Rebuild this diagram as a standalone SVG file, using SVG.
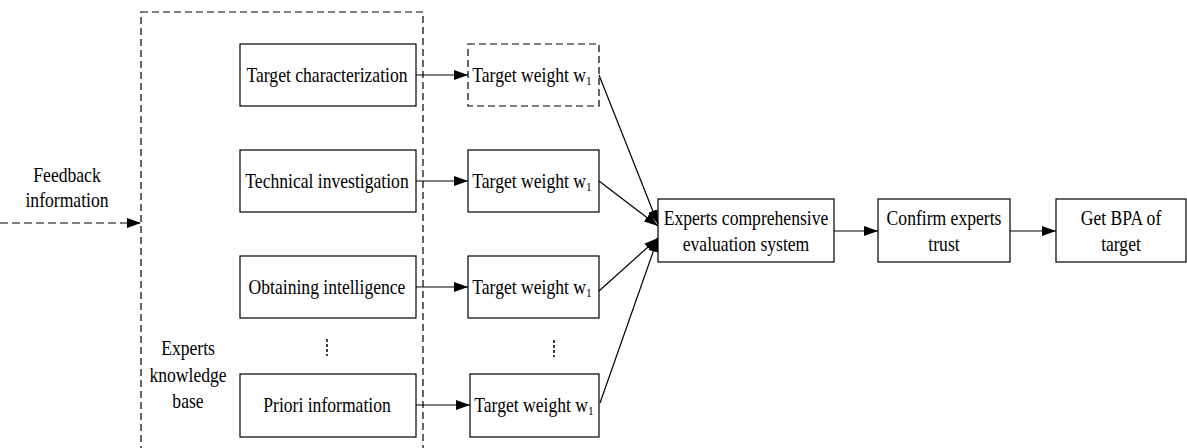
<svg xmlns="http://www.w3.org/2000/svg" width="1187" height="448" viewBox="0 0 1187 448">
<defs>
<marker id="ah" viewBox="0 0 14 10" refX="14" refY="5" markerWidth="14" markerHeight="10" markerUnits="userSpaceOnUse" orient="auto">
<path d="M0,0 L14,5 L0,10 Z" fill="#000"/>
</marker>
<style>
.box{fill:#fff;stroke:#000;stroke-width:1.2}
.dbox{fill:none;stroke:#000;stroke-width:1.2;stroke-dasharray:7,4}
.t{font-family:'Liberation Serif','DejaVu Serif',serif;font-size:20px;fill:#000;text-anchor:middle}
.ln{stroke:#000;stroke-width:1.2;fill:none;marker-end:url(#ah)}
.dl{stroke:#000;stroke-width:1.2;fill:none;stroke-dasharray:8,4;marker-end:url(#ah)}
.dots{stroke:#000;stroke-width:1.5;stroke-dasharray:3,2}
</style>
</defs>
<rect width="1187" height="448" fill="#fff"/>
<g id="kb">
<rect class="dbox" x="141" y="12" width="282" height="450"/>
<text class="t" transform="translate(188,355) scale(0.88,1)">Experts</text>
<text class="t" transform="translate(188,382) scale(0.88,1)">knowledge</text>
<text class="t" transform="translate(188,408) scale(0.88,1)">base</text>
</g>
<g id="feedback">
<text class="t" transform="translate(67,182) scale(0.88,1)">Feedback</text>
<text class="t" transform="translate(67,207) scale(0.88,1)">information</text>
</g>
<g id="n1"><rect class="box" x="240" y="44" width="176" height="62"/><text class="t" transform="translate(327,82) scale(0.88,1)">Target characterization</text></g>
<g id="n2"><rect class="box" x="240" y="150" width="176" height="62"/><text class="t" transform="translate(327,188) scale(0.88,1)">Technical investigation</text></g>
<g id="n3"><rect class="box" x="240" y="256" width="176" height="62"/><text class="t" transform="translate(327,294) scale(0.88,1)">Obtaining intelligence</text></g>
<g id="n4"><rect class="box" x="240" y="374" width="176" height="63"/><text class="t" transform="translate(327,412) scale(0.88,1)">Priori information</text></g>
<g id="w1"><rect class="dbox" x="468" y="44" width="131" height="62"/><text class="t" transform="translate(532,82) scale(0.88,1)">Target weight w<tspan font-size="13" dy="3">1</tspan></text></g>
<g id="w2"><rect class="box" x="468" y="150" width="131" height="62"/><text class="t" transform="translate(532,188) scale(0.88,1)">Target weight w<tspan font-size="13" dy="3">1</tspan></text></g>
<g id="w3"><rect class="box" x="468" y="256" width="131" height="62"/><text class="t" transform="translate(532,294) scale(0.88,1)">Target weight w<tspan font-size="13" dy="3">1</tspan></text></g>
<g id="w4"><rect class="box" x="470" y="374" width="129" height="63"/><text class="t" transform="translate(534,412) scale(0.88,1)">Target weight w<tspan font-size="13" dy="3">1</tspan></text></g>
<g id="eval"><rect class="box" x="658" y="199" width="176" height="63"/><text class="t" transform="translate(746,225) scale(0.88,1)">Experts comprehensive</text><text class="t" transform="translate(746,251) scale(0.88,1)">evaluation system</text></g>
<g id="trust"><rect class="box" x="878" y="199" width="132" height="63"/><text class="t" transform="translate(944,225) scale(0.88,1)">Confirm experts</text><text class="t" transform="translate(944,251) scale(0.88,1)">trust</text></g>
<g id="bpa"><rect class="box" x="1056" y="199" width="130" height="63"/><text class="t" transform="translate(1121,225) scale(0.88,1)">Get BPA of</text><text class="t" transform="translate(1121,251) scale(0.88,1)">target</text></g>
<g id="dots">
<line class="dots" x1="327" y1="339" x2="327" y2="356"/>
<line class="dots" x1="554" y1="340" x2="554" y2="357"/>
</g>
<g id="connectors">
<line class="dl" x1="0" y1="223" x2="141" y2="223"/>
<line class="ln" x1="416" y1="75" x2="468" y2="75"/>
<line class="ln" x1="416" y1="181" x2="468" y2="181"/>
<line class="ln" x1="416" y1="287" x2="468" y2="287"/>
<line class="ln" x1="416" y1="405" x2="470" y2="405"/>
<line class="ln" x1="599" y1="75" x2="658" y2="224"/>
<line class="ln" x1="599" y1="181" x2="658" y2="226"/>
<line class="ln" x1="599" y1="291" x2="658" y2="238"/>
<line class="ln" x1="600" y1="403" x2="658" y2="238"/>
<line class="ln" x1="834" y1="231" x2="878" y2="231"/>
<line class="ln" x1="1010" y1="231" x2="1056" y2="231"/>
</g>
</svg>
